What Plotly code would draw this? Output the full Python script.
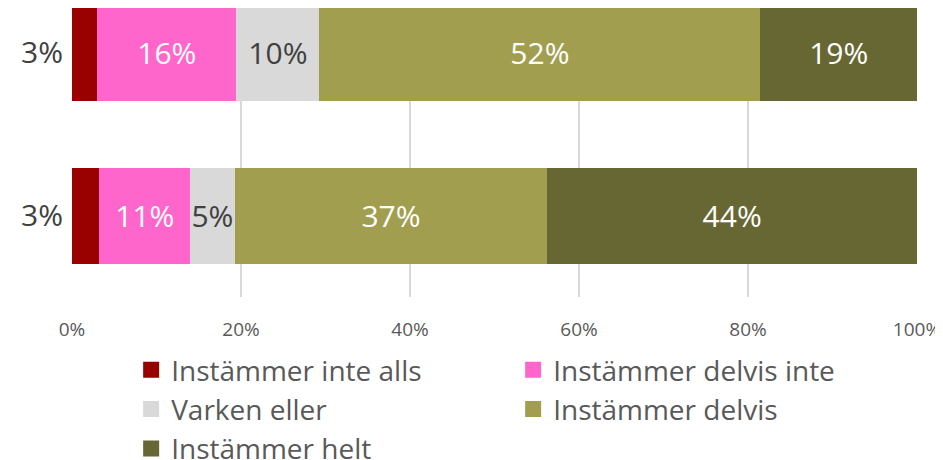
import plotly.graph_objects as go

# two survey items, stacked share of answers (%), top bar first
categories = ['Instämmer inte alls', 'Instämmer delvis inte', 'Varken eller',
              'Instämmer delvis', 'Instämmer helt']
top_bar = [3.0, 16.45, 9.83, 52.19, 18.54]
bottom_bar = [3.23, 10.77, 5.24, 37.01, 43.75]
x_ticks = [0, 20, 40, 60, 80, 100]

colors = ['#990000', '#FF66CC', '#D9D9D9', '#A29E50', '#676734']
label_colors = ['#404040', 'white', '#404040', 'white', 'white']
FONT = 'Open Sans'

# y position 1 = top bar, 0 = bottom bar
rows = [(0, bottom_bar), (1, top_bar)]

fig = go.Figure()

for i, name in enumerate(categories):

    vals = [r[1][i] for r in rows]
    ys = [r[0] for r in rows]

    # the first segment is labelled on the axis instead
    texts = [''] * len(vals) if i == 0 else [f'{round(v)}%' for v in vals]

    fig.add_trace(
        go.Bar(
            name=name,
            x=vals,
            y=ys,
            orientation='h',
            width=0.59,
            marker=dict(color=colors[i], line=dict(width=0)),
            text=texts,
            textposition='inside',
            insidetextanchor='middle',
            constraintext='none',
            textangle=0,
            textfont=dict(family=FONT, size=30, color=label_colors[i]),
            hoverinfo='skip',
            showlegend=False,
        )
    )

# legend entries with bigger square swatches than the bar default
for i, name in enumerate(categories):

    fig.add_trace(
        go.Scatter(
            name=name,
            x=[None],
            y=[None],
            mode='markers',
            marker=dict(symbol='square', size=18, color=colors[i]),
            showlegend=True,
        )
    )

# the page body adds an 8px offset, so margins are shifted to make up for it
fig.update_layout(
    width=943,
    height=460,
    barmode='stack',
    plot_bgcolor='white',
    paper_bgcolor='white',
    margin=dict(l=64, r=34, t=0, b=171, autoexpand=False),
    font=dict(family=FONT, color='#595959'),
    legend=dict(
        orientation='h',
        x=0.07,
        xanchor='left',
        y=-0.166,
        yanchor='top',
        entrywidth=337,
        entrywidthmode='pixels',
        traceorder='normal',
        font=dict(family=FONT, size=28, color='#595959'),
        itemclick=False,
    ),
)

fig.update_xaxes(
    range=[0, 100],
    tickvals=x_ticks,
    ticktext=[f'{t}%' for t in x_ticks],
    showgrid=True,
    gridcolor='#D9D9D9',
    gridwidth=1.5,
    zeroline=False,
    showline=False,
    ticks='',
    ticklabelstandoff=19,
    tickfont=dict(family=FONT, size=19, color='#595959'),
    automargin=False,
    fixedrange=True,
)

# left labels show the share of the first answer for each bar
fig.update_yaxes(
    range=[-0.497, 1.276],
    tickvals=[r[0] for r in rows],
    ticktext=[f'{round(r[1][0])}%' for r in rows],
    showgrid=False,
    zeroline=False,
    showline=False,
    ticks='',
    ticklabelstandoff=8,
    tickfont=dict(family=FONT, size=30, color='#404040'),
    automargin=False,
    fixedrange=True,
)

fig.write_html('out.html')
